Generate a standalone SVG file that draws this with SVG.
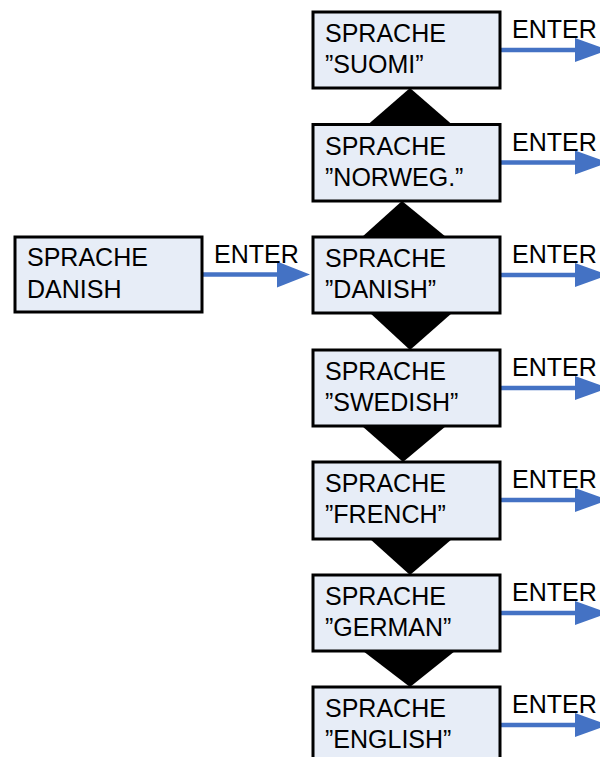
<svg xmlns="http://www.w3.org/2000/svg" width="600" height="757" viewBox="0 0 600 757">
<style>
.box{fill:#E7EDF7;stroke:#000;stroke-width:3}
.t{font-family:"Liberation Sans",Arial,sans-serif;font-size:25px;fill:#000}
.tri{fill:#000;stroke:none}
.ln{stroke:#4472C4;stroke-width:4.5;fill:none}
.hd{fill:#4472C4}
</style>
<rect width="600" height="757" fill="#fff"/>
<g id="connectors">
<polygon class="tri" points="410,88 368,124.5 452,124.5"/>
<polygon class="tri" points="402,201 362,237 446,237"/>
<polygon class="tri" points="370,313 452,313 410,350"/>
<polygon class="tri" points="362,426 446,426 403,462"/>
<polygon class="tri" points="370,539 452,539 410,575"/>
<polygon class="tri" points="363,651 455,651 410,687"/>
<g id="arrows">
<line class="ln" x1="200" y1="274.5" x2="278" y2="274.5"/><polygon class="hd" points="277,261.5 310,274.5 277,287.5"/>
<line class="ln" x1="498" y1="50" x2="577" y2="50"/><polygon class="hd" points="575,38 608,50 575,62"/>
<line class="ln" x1="498" y1="162.5" x2="577" y2="162.5"/><polygon class="hd" points="575,150.5 608,162.5 575,174.5"/>
<line class="ln" x1="498" y1="275" x2="577" y2="275"/><polygon class="hd" points="575,263 608,275 575,287"/>
<line class="ln" x1="498" y1="388" x2="577" y2="388"/><polygon class="hd" points="575,376 608,388 575,400"/>
<line class="ln" x1="498" y1="500" x2="577" y2="500"/><polygon class="hd" points="575,488 608,500 575,512"/>
<line class="ln" x1="498" y1="613" x2="577" y2="613"/><polygon class="hd" points="575,601 608,613 575,625"/>
<line class="ln" x1="498" y1="725" x2="577" y2="725"/><polygon class="hd" points="575,713 608,725 575,737"/>
</g>
<text class="t" x="214" y="263">ENTER</text>
<text class="t" x="512" y="38">ENTER</text>
<text class="t" x="512" y="150.5">ENTER</text>
<text class="t" x="512" y="263">ENTER</text>
<text class="t" x="512" y="376">ENTER</text>
<text class="t" x="512" y="488">ENTER</text>
<text class="t" x="512" y="601">ENTER</text>
<text class="t" x="512" y="713">ENTER</text>
</g>
<g id="node-danish-left"><rect class="box" x="15" y="237" width="187" height="75"/><text class="t" x="27" y="266">SPRACHE</text><text class="t" x="27" y="298">DANISH</text></g>
<g id="node-suomi"><rect class="box" x="313" y="12" width="187" height="76"/><text class="t" x="325" y="42">SPRACHE</text><text class="t" x="325" y="73">”SUOMI”</text></g>
<g id="node-norweg"><rect class="box" x="313" y="124.5" width="187" height="76.5"/><text class="t" x="325" y="154.5">SPRACHE</text><text class="t" x="325" y="185.5">”NORWEG.”</text></g>
<g id="node-danish"><rect class="box" x="313" y="237" width="187" height="76"/><text class="t" x="325" y="267">SPRACHE</text><text class="t" x="325" y="298">”DANISH”</text></g>
<g id="node-swedish"><rect class="box" x="313" y="350" width="187" height="76"/><text class="t" x="325" y="380">SPRACHE</text><text class="t" x="325" y="411">”SWEDISH”</text></g>
<g id="node-french"><rect class="box" x="313" y="462" width="187" height="77"/><text class="t" x="325" y="492">SPRACHE</text><text class="t" x="325" y="523">”FRENCH”</text></g>
<g id="node-german"><rect class="box" x="313" y="575" width="187" height="76"/><text class="t" x="325" y="605">SPRACHE</text><text class="t" x="325" y="636">”GERMAN”</text></g>
<g id="node-english"><rect class="box" x="313" y="687" width="187" height="76"/><text class="t" x="325" y="717">SPRACHE</text><text class="t" x="325" y="748">”ENGLISH”</text></g>
</svg>
